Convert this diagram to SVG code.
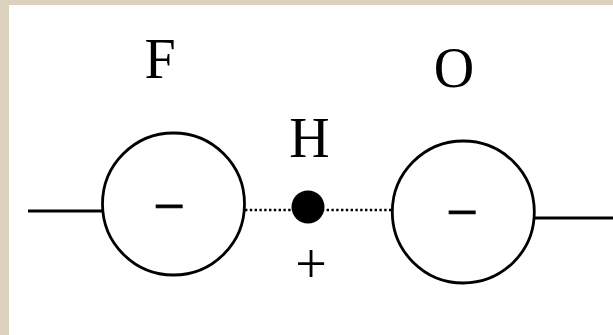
<svg xmlns="http://www.w3.org/2000/svg" width="613" height="335" viewBox="0 0 613 335">
  <style>
    .atom { fill: #ffffff; stroke: #000000; stroke-width: 2.8; }
    .bond { stroke: #000000; stroke-width: 2.8; fill: none; }
    .hbond { stroke: #000000; stroke-width: 2.6; fill: none; stroke-dasharray: 2.4 2.4; }
    .lbl { font-family: "Liberation Serif", "Times New Roman", serif; font-size: 56px; fill: #000000; text-anchor: middle; }
    .neg { stroke: #000000; stroke-width: 0.9; }
  </style>
  <rect x="0" y="0" width="613" height="335" fill="#dad2bf"/>
  <rect x="9" y="5" width="604" height="330" fill="#ffffff"/>
  <g id="connectors">
    <line class="bond" x1="28" y1="211" x2="103" y2="211"/>
    <line class="hbond" x1="245" y1="210" x2="392" y2="210"/>
    <line class="bond" x1="534" y1="218" x2="613" y2="218"/>
  </g>
  <g id="node-F">
    <circle class="atom" cx="173.5" cy="204" r="71"/>
    <text class="lbl" x="160" y="78">F</text>
    <text class="lbl neg" x="169" y="225">−</text>
  </g>
  <g id="node-H">
    <circle cx="308" cy="207" r="16.5" fill="#000000"/>
    <text class="lbl" x="309.5" y="157">H</text>
    <text class="lbl" x="311" y="283">+</text>
  </g>
  <g id="node-O">
    <circle class="atom" cx="463.3" cy="212" r="71"/>
    <text class="lbl" x="454" y="87">O</text>
    <text class="lbl neg" x="462" y="231">−</text>
  </g>
</svg>
